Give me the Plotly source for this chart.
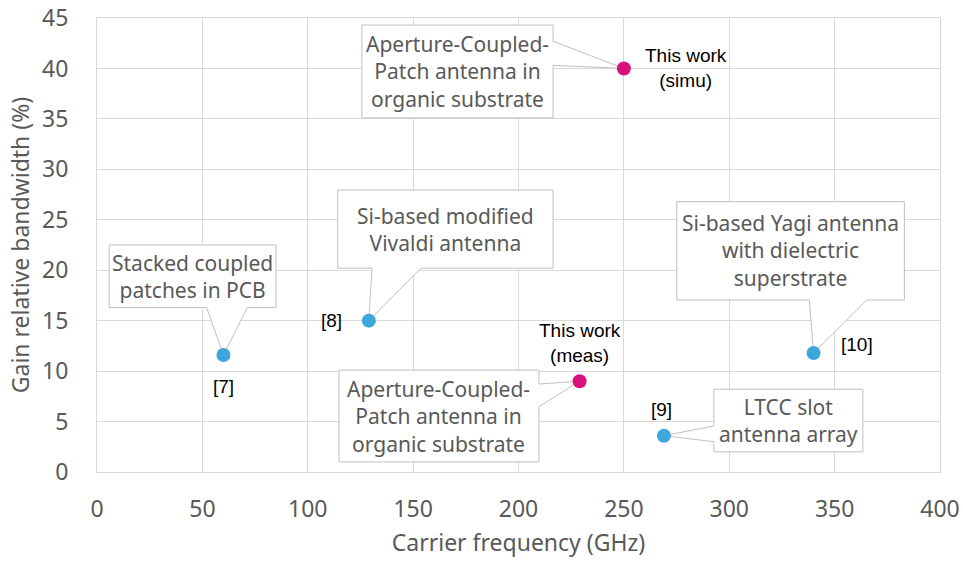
import plotly.graph_objects as go

# Gain relative bandwidth vs carrier frequency
ref_freq = [60, 129, 269, 340]          # GHz
ref_bw = [11.6, 15.0, 3.6, 11.8]        # %
ref_labels = ["[7]", "[8]", "[9]", "[10]"]

work_freq = [250, 229]
work_bw = [40.0, 9.0]
work_labels = ["This work<br>(simu)", "This work<br>(meas)"]

callout_texts = [
    "Stacked coupled<br>patches in PCB",
    "Si-based modified<br>Vivaldi antenna",
    "LTCC slot<br>antenna array",
    "Si-based Yagi antenna<br>with dielectric<br>superstrate",
    "Aperture-Coupled-<br>Patch antenna in<br>organic substrate",
    "Aperture-Coupled-<br>Patch antenna in<br>organic substrate",
]

BLUE = "#3DA7DC"
MAGENTA = "#D8117F"
GRID = "#D9D9D9"
TXT = "#595959"

# callout boxes: (x0, x1, y0, y1), side of pointer, pointer base (two coords on that side)
boxes = [
    ((5.8, 84.9, 16.3, 22.5), "bottom", (71.3, 52.0)),
    ((114.2, 216.4, 20.2, 27.95), "bottom", (153.7, 130.5)),
    ((292.7, 363.4, 2.0, 8.2), "left", (3.0, 4.56)),
    ((275.1, 383.1, 17.05, 26.8), "bottom", (365.2, 338.0)),
    ((125.7, 216.4, 35.1, 44.3), "right", (42.7, 40.3)),
    ((114.8, 209.7, 1.0, 10.1), "right", (8.72, 6.47)),
]
tips = list(zip(ref_freq, ref_bw)) + list(zip(work_freq, work_bw))


def callout_path(box, side, base, tip):
    x0, x1, y0, y1 = box
    tx, ty = tip
    pts = [(x0, y1), (x1, y1)]
    if side == "right":
        pts += [(x1, base[0]), (tx, ty), (x1, base[1])]
    pts += [(x1, y0)]
    if side == "bottom":
        pts += [(base[0], y0), (tx, ty), (base[1], y0)]
    pts += [(x0, y0)]
    if side == "left":
        pts += [(x0, base[0]), (tx, ty), (x0, base[1])]
    return "M " + " L ".join(f"{px},{py}" for px, py in pts) + " Z"


fig = go.Figure()

shapes = []
annotations = []
for (box, side, base), tip, txt in zip(boxes, tips, callout_texts):
    shapes.append(dict(
        type="path", path=callout_path(box, side, base, tip),
        xref="x", yref="y", layer="between",
        fillcolor="white", line=dict(color="#BFBFBF", width=1),
    ))
    annotations.append(dict(
        x=(box[0] + box[1]) / 2, y=(box[2] + box[3]) / 2, xref="x", yref="y",
        text=txt, showarrow=False, align="center",
        font=dict(family="Noto Sans, Open Sans, sans-serif", size=21, color=TXT),
    ))

fig.add_trace(go.Scatter(
    x=ref_freq, y=ref_bw, mode="markers",
    marker=dict(size=14, color=BLUE), showlegend=False, hoverinfo="skip",
))
fig.add_trace(go.Scatter(
    x=work_freq, y=work_bw, mode="markers",
    marker=dict(size=14, color=MAGENTA), showlegend=False, hoverinfo="skip",
))

# point labels offset from their markers (pixels)
ref_shift = [(0, -32), (-37, 0), (-2, 26), (43, 8)]
work_shift = [(62, 0), (0, 38)]
for xs, ys, labs, shifts in [(ref_freq, ref_bw, ref_labels, ref_shift),
                             (work_freq, work_bw, work_labels, work_shift)]:
    for xv, yv, lab, (dx, dy) in zip(xs, ys, labs, shifts):
        annotations.append(dict(
            x=xv, y=yv, xref="x", yref="y", text=lab, showarrow=False,
            xshift=dx, yshift=dy, align="center",
            font=dict(family="Liberation Sans, Arial, sans-serif", size=19, color="black"),
        ))

tick_font = dict(family="Noto Sans, Open Sans, sans-serif", size=23, color=TXT)
title_font = dict(family="Noto Sans, Open Sans, sans-serif", size=23, color=TXT)
fig.update_layout(
    width=963, height=562,
    margin=dict(l=97, r=23, t=18, b=90),
    paper_bgcolor="white", plot_bgcolor="white",
    shapes=shapes, annotations=annotations,
    xaxis=dict(
        range=[0, 400], dtick=50, tick0=0, showgrid=True, gridcolor=GRID,
        zeroline=False, showline=True, mirror=True, linecolor=GRID,
        tickfont=tick_font, ticks="", ticklabelstandoff=16, automargin=False,
        title=dict(text="Carrier frequency (GHz)", font=title_font, standoff=12),
    ),
    yaxis=dict(
        range=[0, 45], dtick=5, tick0=0, showgrid=True, gridcolor=GRID,
        zeroline=False, showline=True, mirror=True, linecolor=GRID,
        tickfont=tick_font, ticks="", ticklabelstandoff=23, automargin=False,
        title=dict(text="Gain relative bandwidth (%)", font=title_font, standoff=6),
    ),
)

fig.write_html("out.html")
